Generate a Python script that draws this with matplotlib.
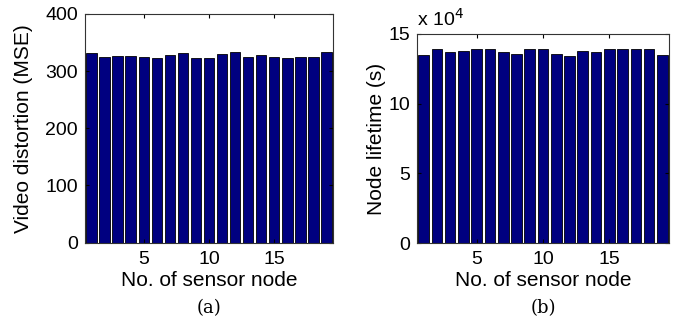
import numpy as np
import matplotlib.pyplot as plt

plt.rcParams['font.family'] = ['Liberation Sans', 'DejaVu Sans']

nodes = list(range(1, 20))
distortion = [332, 324, 327, 326, 324, 323, 328, 331, 323, 323,
              330, 333, 325, 328, 324, 323, 324.5, 324, 333]
lifetime = [13.5, 13.9, 13.7, 13.8, 13.9, 13.9, 13.7, 13.55, 13.9, 13.9,
            13.6, 13.4, 13.8, 13.7, 13.9, 13.9, 13.9, 13.9, 13.5]

bar_color = "#000080"

fig = plt.figure(figsize=(6.74, 3.21), dpi=100)

# (a) video distortion
ax1 = fig.add_axes([85/674, 1 - 242.5/321, 248/674, 228.5/321])
ax1.bar(nodes, distortion, width=0.8, color=bar_color, edgecolor="black", linewidth=0.6)
ax1.set_xlim(0.5, 19.5)
ax1.set_ylim(0, 400)
ax1.set_xticks([5, 10, 15])
ax1.set_yticks([0, 100, 200, 300, 400])
ax1.set_xlabel("No. of sensor node", fontsize=15)
ax1.set_ylabel("Video distortion (MSE)", fontsize=15)
ax1.xaxis.set_label_coords(0.5, -0.125)
ax1.yaxis.set_label_coords(-0.21, 0.5)
ax1.text(0.5, -0.287, "(a)", transform=ax1.transAxes, ha="center", va="center",
         fontsize=13, family="DejaVu Serif")

# (b) node lifetime
ax2 = fig.add_axes([417/674, 1 - 243/321, 252/674, 209/321])
ax2.bar(nodes, lifetime, width=0.8, color=bar_color, edgecolor="black", linewidth=0.6)
ax2.set_xlim(0.5, 19.5)
ax2.set_ylim(0, 15)
ax2.set_xticks([5, 10, 15])
ax2.set_yticks([0, 5, 10, 15])
ax2.set_xlabel("No. of sensor node", fontsize=15)
ax2.set_ylabel("Node lifetime (s)", fontsize=15)
ax2.xaxis.set_label_coords(0.5, -0.134)
ax2.yaxis.set_label_coords(-0.125, 0.5)
ax2.text(0.0, 1.02, r"x 10$^4$", transform=ax2.transAxes, ha="left", va="bottom",
         fontsize=14)
ax2.text(0.5, -0.311, "(b)", transform=ax2.transAxes, ha="center", va="center",
         fontsize=13, family="DejaVu Serif")

for ax in (ax1, ax2):
    ax.tick_params(direction="in", top=True, right=True, labelsize=14, length=3)
    ax.tick_params(axis="x", pad=6)
    ax.tick_params(axis="y", pad=5)
    for s in ax.spines.values():
        s.set_linewidth(0.8)
        s.set_color("#333333")

fig.savefig("out.png", dpi=100)
